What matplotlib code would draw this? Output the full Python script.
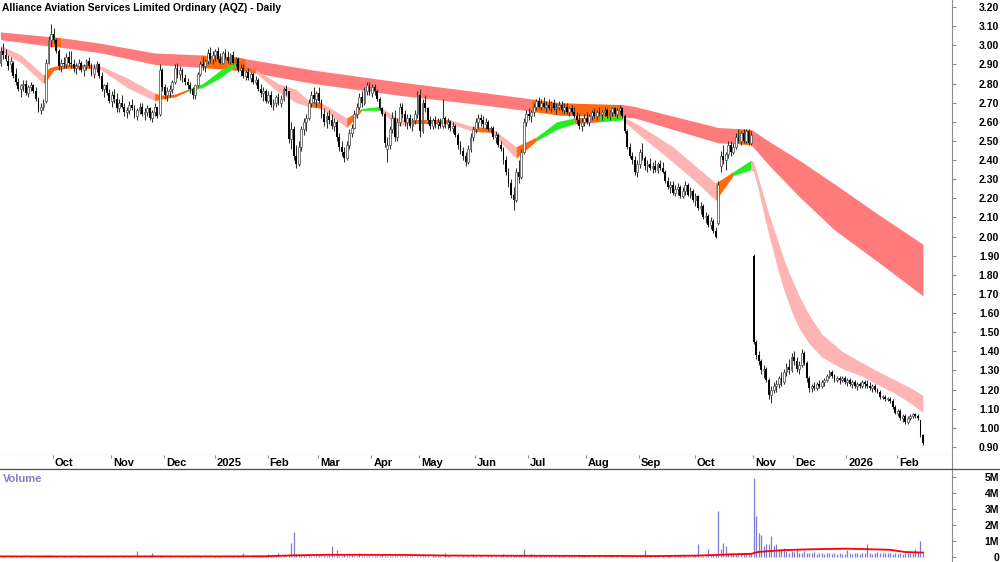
"""Daily candlestick chart for AQZ with trend ribbons and volume."""

import matplotlib
matplotlib.use("Agg")
import matplotlib.pyplot as plt
from matplotlib.lines import Line2D
import numpy as np

plt.rcParams["font.family"] = ["Liberation Sans", "DejaVu Sans"]

title = "Alliance Aviation Services Limited Ordinary (AQZ) - Daily"

# daily OHLC, cents (one entry per trading day, starting early Sep 2024)
opens = [
    291, 297, 295, 292, 290, 291, 285, 281, 277, 279,
    280, 275, 278, 279, 276, 272, 266, 268, 271, 291,
    303, 306, 303, 297, 289, 291, 290, 294, 291, 290,
    288, 289, 291, 287, 289, 292, 289, 285, 288, 290,
    284, 277, 279, 275, 271, 274, 272, 267, 270, 268,
    265, 266, 269, 267, 263, 266, 268, 264, 265, 267,
    262, 265, 268, 264, 287, 278, 274, 276, 277, 281,
    288, 285, 287, 283, 281, 279, 277, 274, 279, 285,
    290, 289, 292, 296, 293, 295, 297, 293, 291, 296,
    294, 292, 295, 291, 293, 287, 288, 284, 286, 283,
    285, 281, 282, 277, 275, 276, 271, 274, 269, 270,
    273, 270, 272, 277, 276, 251, 256, 242, 238, 247,
    256, 260, 262, 270, 274, 272, 275, 271, 264, 260,
    263, 261, 258, 260, 252, 247, 244, 241, 248, 254,
    257, 264, 268, 273, 270, 276, 279, 275, 278, 276,
    272, 267, 264, 246, 248, 256, 262, 252, 260, 268,
    264, 260, 262, 258, 261, 264, 274, 255, 270, 267,
    261, 258, 261, 259, 260, 258, 262, 259, 260, 257,
    258, 253, 248, 245, 242, 239, 246, 252, 256, 260,
    262, 261, 259, 260, 256, 257, 252, 253, 248, 246,
    240, 234, 228, 222, 219, 234, 231, 244, 260, 264,
    263, 265, 268, 271, 268, 270, 268, 269, 267, 270,
    267, 268, 269, 266, 268, 265, 267, 265, 263, 261,
    258, 260, 262, 260, 263, 265, 263, 265, 264, 265,
    266, 263, 265, 267, 264, 266, 267, 263, 255, 247,
    242, 240, 234, 238, 244, 241, 237, 238, 236, 237,
    235, 238, 236, 234, 229, 226, 227, 223, 225, 226,
    221, 224, 227, 222, 224, 219, 221, 215, 216, 210,
    211, 206, 208, 203, 207, 237, 242, 240, 243, 248,
    244, 247, 252, 250, 254, 250, 255, 249, 190, 145,
    138, 135, 130, 131, 125, 117, 120, 122, 123, 126,
    124, 129, 132, 130, 137, 135, 131, 133, 139, 134,
    126, 121, 122, 121, 123, 122, 124, 125, 127, 129,
    127, 125, 126, 125, 126, 124, 125, 123, 124, 122,
    123, 122, 124, 123, 122, 121, 122, 120, 119, 116,
    116, 115, 115, 114, 111, 108, 109, 105, 106, 103,
    105, 106, 107, 106, 104, 96,
]
highs = [
    299, 301, 298, 295, 294, 292, 288, 283, 280, 282,
    282, 279, 281, 280, 278, 273, 270, 272, 293, 305,
    311, 309, 304, 298, 293, 294, 296, 297, 297, 293,
    291, 293, 292, 290, 293, 294, 291, 290, 292, 291,
    286, 280, 281, 277, 276, 277, 275, 272, 274, 270,
    268, 271, 272, 269, 267, 270, 270, 267, 269, 268,
    266, 270, 268, 290, 288, 280, 278, 279, 282, 290,
    291, 289, 288, 285, 283, 281, 278, 280, 286, 292,
    294, 293, 298, 299, 297, 298, 299, 296, 297, 298,
    297, 296, 297, 294, 294, 290, 290, 287, 288, 286,
    286, 284, 283, 280, 278, 277, 276, 276, 272, 274,
    275, 274, 278, 279, 276, 260, 258, 248, 250, 258,
    262, 264, 272, 276, 278, 276, 278, 272, 267, 265,
    266, 264, 262, 261, 254, 250, 247, 250, 256, 259,
    266, 270, 275, 276, 278, 281, 281, 280, 280, 277,
    273, 268, 265, 252, 258, 265, 266, 262, 270, 270,
    266, 264, 264, 262, 266, 276, 277, 272, 274, 268,
    263, 262, 263, 262, 262, 272, 263, 262, 261, 260,
    259, 254, 250, 247, 244, 248, 254, 258, 262, 264,
    264, 263, 262, 261, 258, 258, 255, 254, 250, 247,
    242, 236, 230, 226, 236, 240, 246, 262, 266, 267,
    266, 270, 272, 273, 272, 273, 271, 272, 271, 272,
    270, 271, 271, 270, 270, 268, 269, 268, 265, 264,
    262, 264, 265, 264, 266, 267, 266, 268, 266, 268,
    267, 266, 268, 268, 267, 269, 268, 264, 256, 249,
    244, 242, 240, 246, 249, 242, 240, 241, 239, 240,
    239, 240, 239, 235, 231, 229, 229, 227, 228, 227,
    226, 229, 228, 226, 225, 223, 222, 218, 217, 213,
    212, 210, 209, 205, 229, 245, 248, 244, 250, 250,
    249, 254, 256, 255, 256, 256, 256, 255, 191, 146,
    140, 136, 133, 132, 126, 122, 124, 125, 127, 129,
    131, 134, 136, 139, 140, 137, 135, 141, 140, 135,
    127, 123, 124, 124, 125, 125, 126, 128, 130, 130,
    128, 127, 127, 127, 127, 126, 126, 125, 125, 124,
    124, 125, 125, 125, 124, 123, 123, 121, 120, 117,
    117, 116, 116, 115, 112, 110, 110, 107, 107, 106,
    107, 108, 108, 107, 104, 97,
]
lows = [
    289, 293, 292, 287, 286, 283, 279, 276, 273, 276,
    274, 273, 276, 275, 271, 265, 264, 266, 270, 290,
    299, 301, 296, 287, 286, 288, 288, 289, 288, 286,
    285, 287, 286, 284, 287, 288, 284, 283, 286, 283,
    276, 273, 274, 270, 268, 270, 265, 265, 267, 263,
    262, 264, 266, 262, 261, 264, 263, 261, 263, 261,
    260, 263, 262, 263, 276, 272, 271, 273, 275, 280,
    283, 282, 281, 279, 277, 275, 272, 272, 278, 284,
    287, 286, 290, 291, 290, 292, 292, 290, 290, 293,
    291, 290, 290, 289, 286, 284, 283, 282, 282, 281,
    280, 279, 276, 273, 271, 270, 270, 268, 266, 268,
    269, 268, 271, 274, 249, 246, 240, 236, 237, 245,
    253, 255, 261, 268, 270, 268, 270, 262, 258, 257,
    259, 256, 255, 250, 245, 242, 239, 240, 246, 252,
    256, 262, 266, 268, 269, 274, 274, 273, 274, 271,
    266, 263, 247, 239, 246, 254, 250, 250, 258, 262,
    258, 256, 257, 255, 259, 262, 252, 254, 265, 259,
    256, 256, 257, 256, 257, 257, 257, 256, 255, 254,
    252, 246, 243, 240, 237, 238, 244, 250, 254, 257,
    258, 257, 256, 255, 254, 251, 249, 247, 245, 238,
    232, 226, 220, 214, 218, 228, 230, 243, 258, 261,
    260, 263, 266, 267, 266, 267, 265, 266, 265, 266,
    264, 266, 265, 264, 264, 263, 264, 262, 259, 256,
    255, 258, 259, 258, 261, 262, 261, 263, 261, 263,
    262, 261, 263, 263, 262, 264, 262, 254, 246, 241,
    238, 232, 231, 236, 240, 235, 234, 235, 233, 234,
    233, 235, 233, 228, 225, 223, 222, 221, 222, 220,
    220, 222, 221, 220, 218, 216, 214, 212, 209, 207,
    205, 204, 202, 199, 206, 234, 238, 235, 241, 242,
    243, 246, 249, 248, 249, 249, 248, 248, 144, 136,
    133, 128, 126, 124, 115, 113, 118, 119, 121, 122,
    123, 127, 128, 129, 133, 129, 128, 132, 133, 124,
    119, 119, 120, 120, 121, 121, 122, 124, 126, 126,
    124, 124, 123, 124, 123, 122, 122, 121, 121, 120,
    121, 121, 121, 121, 120, 119, 119, 118, 115, 115,
    114, 114, 113, 110, 107, 106, 104, 103, 102, 102,
    104, 105, 105, 104, 95, 91,
]
closes = [
    297, 295, 293, 289, 292, 284, 281, 277, 279, 280,
    275, 278, 279, 276, 272, 266, 268, 270, 291, 303,
    306, 303, 297, 289, 291, 290, 294, 291, 290, 288,
    289, 291, 287, 289, 292, 289, 285, 288, 290, 284,
    277, 279, 275, 271, 274, 272, 267, 270, 268, 265,
    266, 269, 267, 263, 266, 268, 264, 265, 267, 262,
    265, 268, 263, 287, 278, 274, 276, 277, 281, 288,
    285, 287, 283, 281, 279, 277, 274, 279, 285, 290,
    289, 292, 296, 293, 295, 297, 293, 291, 296, 294,
    292, 295, 291, 293, 287, 288, 284, 286, 283, 285,
    281, 282, 277, 275, 276, 271, 274, 269, 270, 273,
    270, 272, 277, 276, 251, 256, 242, 238, 247, 256,
    260, 262, 270, 274, 272, 275, 271, 264, 260, 263,
    261, 258, 260, 252, 247, 244, 241, 248, 254, 257,
    264, 268, 273, 270, 276, 279, 275, 278, 276, 272,
    267, 264, 249, 248, 256, 262, 252, 260, 268, 264,
    260, 262, 258, 261, 264, 274, 255, 270, 267, 261,
    258, 261, 259, 260, 258, 262, 259, 260, 257, 258,
    253, 248, 245, 242, 239, 246, 252, 256, 260, 262,
    261, 259, 260, 256, 257, 252, 253, 248, 246, 240,
    234, 228, 222, 219, 234, 231, 244, 260, 264, 263,
    265, 268, 271, 268, 270, 268, 269, 267, 270, 267,
    268, 269, 266, 268, 265, 267, 265, 263, 261, 258,
    260, 262, 260, 263, 265, 263, 265, 264, 265, 266,
    263, 265, 267, 264, 266, 267, 263, 255, 247, 242,
    240, 234, 238, 244, 241, 237, 238, 236, 237, 235,
    238, 236, 234, 229, 226, 227, 223, 225, 226, 221,
    224, 227, 222, 224, 219, 221, 215, 216, 210, 211,
    206, 208, 203, 200, 227, 242, 240, 243, 248, 244,
    247, 252, 250, 254, 250, 255, 249, 253, 145, 138,
    135, 130, 131, 125, 117, 120, 122, 123, 126, 124,
    129, 132, 130, 137, 135, 131, 133, 139, 134, 126,
    121, 122, 121, 123, 122, 124, 125, 127, 129, 127,
    125, 126, 125, 126, 124, 125, 123, 124, 122, 123,
    122, 124, 123, 122, 121, 122, 120, 119, 116, 116,
    115, 115, 114, 111, 108, 109, 105, 106, 103, 105,
    106, 107, 106, 105, 96, 92,
]

# daily volume, thousands of shares
volume_k = [
    40, 60, 35, 50, 80, 45, 70, 30, 55, 40,
    50, 35, 60, 45, 30, 70, 55, 90, 120, 150,
    110, 80, 60, 50, 40, 70, 45, 35, 60, 50,
    40, 55, 30, 45, 60, 35, 50, 40, 65, 30,
    55, 45, 70, 40, 35, 60, 50, 45, 30, 55,
    40, 60, 35, 50, 380, 70, 45, 60, 40, 55,
    250, 50, 40, 70, 90, 45, 35, 60, 50, 40,
    30, 45, 55, 35, 60, 40, 50, 30, 45, 60,
    40, 35, 50, 45, 30, 55, 40, 60, 35, 50,
    45, 30, 55, 40, 60, 35, 250, 50, 45, 40,
    60, 80, 55, 70, 90, 65, 200, 85, 70, 60,
    300, 80, 120, 90, 150, 900, 1550, 200, 150, 120,
    140, 110, 160, 90, 100, 80, 130, 110, 150, 90,
    120, 700, 100, 450, 110, 90, 130, 80, 100, 120,
    90, 110, 250, 80, 100, 70, 90, 110, 60, 80,
    90, 120, 100, 80, 70, 110, 90, 60, 80, 70,
    60, 90, 70, 80, 50, 60, 100, 70, 60, 80,
    50, 70, 60, 90, 80, 50, 280, 60, 70, 40,
    50, 60, 40, 70, 50, 60, 45, 150, 55, 40,
    60, 50, 45, 70, 55, 40, 60, 50, 70, 200,
    90, 70, 60, 80, 120, 90, 150, 550, 100, 80,
    200, 90, 70, 100, 60, 80, 120, 70, 90, 60,
    80, 70, 60, 90, 50, 70, 80, 60, 50, 70,
    60, 80, 55, 70, 50, 60, 40, 70, 50, 60,
    45, 55, 70, 40, 60, 50, 80, 90, 70, 60,
    80, 70, 60, 90, 50, 450, 60, 70, 50, 80,
    60, 50, 70, 40, 60, 80, 50, 60, 100, 70,
    60, 90, 80, 70, 60, 120, 830, 100, 90, 80,
    550, 120, 150, 180, 2900, 550, 900, 700, 250, 300,
    280, 220, 260, 240, 300, 280, 250, 260, 4950, 2600,
    1500, 1400, 700, 800, 800, 1350, 700, 850, 500, 450,
    600, 400, 300, 420, 350, 450, 300, 250, 380, 280,
    300, 250, 350, 200, 300, 260, 220, 300, 250, 200,
    280, 220, 250, 200, 230, 450, 260, 200, 240, 300,
    220, 250, 280, 850, 300, 220, 260, 320, 280, 250,
    240, 300, 280, 220, 250, 200, 270, 230, 260, 300,
    250, 280, 500, 350, 1000, 350,
]

# volume moving average, read at a few bars (thousands)
vol_ma_bar = [0, 30, 60, 90, 105, 115, 130, 160, 177, 200, 230, 260, 276,
              290, 297, 300, 310, 320, 335, 345, 352, 358, 365]
vol_ma_k = [60, 55, 60, 60, 70, 120, 160, 150, 110, 100, 90, 80, 110,
            190, 220, 340, 450, 500, 540, 500, 470, 330, 300]

# long-term ribbon (bar, upper $, lower $, state of the stretch that follows)
long_bar = [0, 20, 24, 40, 61, 79, 93, 97, 124, 157, 190, 210, 221, 246,
            251, 284, 292, 297, 305, 316, 330, 348, 365]
long_hi = [3.07, 3.045, 3.04, 3.01, 2.96, 2.95, 2.94, 2.93, 2.87, 2.81,
           2.755, 2.72, 2.70, 2.69, 2.68, 2.57, 2.565, 2.56, 2.49, 2.40,
           2.275, 2.11, 1.96]
long_lo = [3.03, 2.995, 2.99, 2.96, 2.90, 2.885, 2.87, 2.865, 2.80, 2.74,
           2.69, 2.655, 2.635, 2.625, 2.62, 2.49, 2.485, 2.48, 2.36, 2.21,
           2.035, 1.86, 1.69]
long_state = ["n", "o", "n", "n", "n", "o", "o", "n", "n", "n", "n", "o",
              "o", "n", "n", "n", "o", "n", "n", "n", "n", "n"]

# short-term ribbon: p = falling, o = turning, g = rising
short_bar = [0, 8, 17, 19, 21, 26, 36, 40, 50, 61, 64, 69, 74, 80, 87, 93,
             101, 110, 117, 122, 127, 137, 143, 150, 157, 163, 178, 187,
             194, 204, 212, 220, 227, 237, 246, 253, 266, 274, 283, 290,
             297, 298, 300, 302, 304, 306, 308, 310, 313, 316, 320, 325,
             333, 341, 348, 354, 360, 365]
short_hi = [3.00, 2.95, 2.845, 2.88, 2.89, 2.90, 2.90, 2.89, 2.83, 2.75,
            2.74, 2.745, 2.77, 2.80, 2.87, 2.91, 2.87, 2.80, 2.77, 2.71,
            2.70, 2.62, 2.67, 2.68, 2.62, 2.61, 2.61, 2.575, 2.57, 2.47,
            2.52, 2.60, 2.62, 2.63, 2.63, 2.58, 2.47, 2.38, 2.28, 2.34,
            2.40, 2.39, 2.30, 2.21, 2.12, 2.04, 1.96, 1.88, 1.78, 1.69,
            1.59, 1.49, 1.40, 1.34, 1.29, 1.25, 1.21, 1.17]
short_lo = [2.97, 2.91, 2.80, 2.83, 2.87, 2.88, 2.88, 2.87, 2.78, 2.71,
            2.72, 2.73, 2.76, 2.78, 2.83, 2.89, 2.855, 2.755, 2.70, 2.68,
            2.67, 2.57, 2.66, 2.66, 2.58, 2.59, 2.59, 2.55, 2.545, 2.41,
            2.50, 2.56, 2.59, 2.60, 2.61, 2.53, 2.39, 2.30, 2.19, 2.32,
            2.35, 2.34, 2.24, 2.12, 2.01, 1.91, 1.81, 1.72, 1.61, 1.52,
            1.44, 1.37, 1.31, 1.27, 1.22, 1.18, 1.13, 1.08]
short_state = ["p", "p", "o", "o", "o", "o", "p", "p", "p", "o", "o", "o",
               "g", "g", "g", "o", "p", "p", "p", "o", "p", "o", "g", "p",
               "p", "o", "p", "o", "p", "o", "g", "g", "o", "g", "p", "p",
               "p", "p", "o", "g", "p", "p", "p", "p", "p", "p", "p", "p",
               "p", "p", "p", "p", "p", "p", "p", "p", "p"]

month_labels = ["Oct", "Nov", "Dec", "2025", "Feb", "Mar", "Apr", "May", "Jun",
                "Jul", "Aug", "Sep", "Oct", "Nov", "Dec", "2026", "Feb"]
month_start_bar = [21, 44, 65, 85, 106, 126, 147, 166, 188, 209, 232, 253,
                   275, 298, 314, 335, 355]

RIBBON_COLORS = {"n": "#ff7b7b", "p": "#ffb4b4", "o": "#ff6a10", "g": "#22ee22"}


def draw_ribbon(ax, bars, hi, lo, state):
    bars, hi, lo = np.asarray(bars), np.asarray(hi), np.asarray(lo)
    start = 0
    for k in range(1, len(state) + 1):
        if k == len(state) or state[k] != state[start]:
            seg = slice(start, k + 1)
            ax.fill_between(bars[seg], lo[seg], hi[seg],
                            color=RIBBON_COLORS[state[start]], lw=0, zorder=1)
            start = k


W, H = 1000, 562
fig = plt.figure(figsize=(W / 100, H / 100), dpi=100)


def axes_px(x0, y0, x1, y1):
    return fig.add_axes([x0 / W, 1 - y1 / H, (x1 - x0) / W, (y1 - y0) / H])


ax = axes_px(0, 0, 952, 455)
axd = axes_px(0, 455, 952, 469)
axv = axes_px(0, 469, 952, 562)

o = np.array(opens) / 100
h = np.array(highs) / 100
l = np.array(lows) / 100
c = np.array(closes) / 100
x = np.arange(len(c))
xlim = (-0.2, 376.5)

# ribbons under the candles
draw_ribbon(ax, long_bar, long_hi, long_lo, long_state)
draw_ribbon(ax, short_bar, short_hi, short_lo, short_state)

up = c >= o
ax.vlines(x, l, h, color="#303030", lw=0.75, zorder=3)
body = np.maximum(np.abs(c - o), 0.004)
ax.bar(x[up], body[up], bottom=o[up], width=0.72, facecolor="white",
       edgecolor="#606060", lw=0.6, zorder=4)
ax.bar(x[~up], body[~up], bottom=c[~up], width=0.72, color="black",
       lw=0, zorder=4)

ax.set_xlim(*xlim)
ax.set_ylim(0.858, 3.237)
ax.set_xticks([])
yt = np.round(np.arange(0.9, 3.201, 0.1), 2)
ax.set_yticks(yt)
ax.set_yticklabels([f"{v:.2f}" for v in yt])
for a in (ax, axd, axv):
    a.yaxis.tick_right()
    a.spines["left"].set_visible(False)
    a.spines["top"].set_visible(False)
    a.spines["right"].set_color("#8c8c8c")
    a.spines["bottom"].set_visible(False)
    a.set_facecolor("white")
ax.spines["bottom"].set_visible(True)
ax.spines["bottom"].set_color("#a0a0a0")
ax.tick_params(axis="y", direction="out", length=3, color="#8c8c8c",
               pad=31, labelsize=7.5)
for lab in ax.get_yticklabels():
    lab.set_horizontalalignment("right")
    lab.set_fontweight("bold")

# month strip
axd.set_xlim(*xlim)
axd.set_ylim(0, 1)
axd.set_xticks([])
axd.set_yticks([])
axd.spines["bottom"].set_visible(True)
axd.spines["bottom"].set_color("#505050")
axd.vlines(np.array(month_start_bar) - 0.3, 0.78, 1.0, color="#8c8c8c", lw=0.8)
for b, lab in zip(month_start_bar, month_labels):
    axd.text(b + 0.5, 0.42, lab, ha="left", va="center", fontsize=8,
             fontweight="bold")

# volume panel
vol = np.array(volume_k) * 1000
axv.vlines(x, 0, vol, color="#7b7bd9", lw=0.9, zorder=2)
axv.plot(vol_ma_bar, np.array(vol_ma_k) * 1000, color="#ff0000", lw=1.3,
         zorder=3)
axv.set_xlim(*xlim)
axv.set_ylim(-0.29e6, 5.5e6)
axv.set_xticks([])
vt = np.arange(0, 6) * 1e6
axv.set_yticks(vt)
axv.set_yticklabels(["0"] + [f"{i}M" for i in range(1, 6)])
axv.tick_params(axis="y", direction="out", length=3, color="#8c8c8c",
                pad=31, labelsize=7.5)
for lab in axv.get_yticklabels():
    lab.set_horizontalalignment("right")
    lab.set_fontweight("bold")

fig.add_artist(Line2D([0, 1], [1 - 469 / H, 1 - 469 / H], color="#505050",
                      lw=0.9, transform=fig.transFigure))

fig.text(2 / W, 1 - 8 / H, title, ha="left", va="center", fontsize=7.4,
         fontweight="bold")
fig.text(3 / W, 1 - 479 / H, "Volume", ha="left", va="center", fontsize=8,
         fontweight="bold", color="#8080c0")

fig.savefig("out.png", dpi=100)
plt.close(fig)
